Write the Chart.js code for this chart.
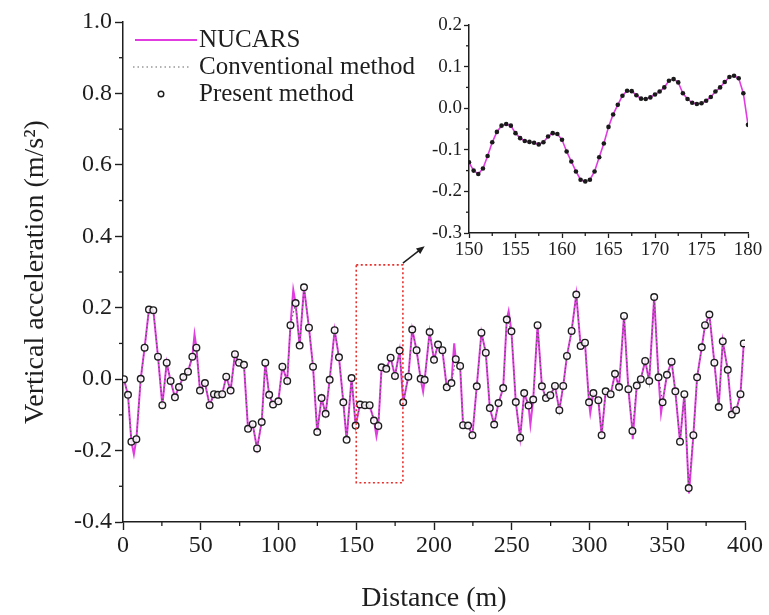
<!DOCTYPE html>
<html>
<head>
<meta charset="utf-8">
<script src="https://cdn.jsdelivr.net/npm/chart.js@4.4.1/dist/chart.umd.min.js"></script>
<style>
  html, body { margin: 0; padding: 0; background: #fff; }
  #wrap { position: relative; width: 769px; height: 615px; }
  #main { position: absolute; left: 0; top: 0; }
  #inset { position: absolute; left: 400px; top: 0; }
</style>
</head>
<body>
<div id="wrap">
  <canvas id="main" width="769" height="615"></canvas>
  <canvas id="inset" width="369" height="265"></canvas>
</div>
<script>
// Valores (distancia en m, aceleracion en m/s2)
const presentDist = [
  0.6, 3.2, 5.4, 8.6, 11.4, 13.9, 16.7, 19.5, 22.5, 25.3, 28.1, 30.6, 33.4, 36.0, 38.8, 41.8,
  44.6, 47.2, 49.5, 52.7, 55.7, 58.5, 61.0, 63.8, 66.4, 69.2, 72.0, 74.6, 77.8, 80.4, 83.4, 86.2,
  89.2, 91.5, 94.0, 96.5, 99.9, 102.5, 105.6, 107.7, 111.0, 113.6, 116.4, 119.6, 122.2, 124.9,
  127.7, 130.3, 132.9, 136.1, 138.9, 141.7, 143.8, 147.0, 149.6, 152.4, 155.6, 158.6, 161.4,
  164.2, 166.3, 169.3, 172.1, 174.9, 177.9, 180.2, 183.5, 186.0, 188.8, 191.4, 194.0, 197.2,
  200.0, 202.6, 205.4, 208.2, 211.2, 214.0, 216.8, 218.7, 221.9, 224.7, 227.5, 230.5, 233.3,
  235.9, 238.7, 241.5, 244.5, 246.8, 249.8, 252.6, 255.4, 258.0, 260.8, 263.8, 266.6, 269.4,
  272.0, 274.8, 277.8, 280.6, 283.1, 285.5, 288.5, 291.5, 294.3, 297.1, 299.7, 302.5, 305.7,
  307.8, 310.4, 313.6, 316.4, 319.0, 322.2, 325.0, 327.6, 330.4, 333.0, 335.8, 338.4, 341.6,
  344.4, 347.0, 349.8, 352.8, 355.2, 358.2, 361.0, 363.8, 366.8, 369.2, 372.2, 374.3, 377.1,
  380.3, 383.1, 385.7, 388.9, 391.5, 394.3, 397.1, 399.2
];
const presentAcc = [
  0.000, -0.044, -0.175, -0.168, 0.001, 0.088, 0.195, 0.193, 0.063, -0.073, 0.046, -0.005, -0.051, -0.022, 0.006, 0.021,
  0.063, 0.088, -0.032, -0.011, -0.073, -0.042, -0.044, -0.042, 0.007, -0.032, 0.070, 0.046, 0.040, -0.139, -0.126, -0.194,
  -0.120, 0.046, -0.044, -0.071, -0.062, 0.035, -0.005, 0.151, 0.213, 0.094, 0.257, 0.144, 0.035, -0.148,
  -0.053, -0.097, -0.002, 0.137, 0.061, -0.065, -0.170, 0.003, -0.130, -0.071, -0.073, -0.073, -0.116,
  -0.131, 0.033, 0.029, 0.060, 0.009, 0.080, -0.065, 0.007, 0.139, 0.081, 0.001, -0.002, 0.132,
  0.054, 0.097, 0.081, -0.023, -0.011, 0.056, 0.037, -0.129, -0.130, -0.157, -0.020, 0.130, 0.074,
  -0.081, -0.127, -0.067, -0.025, 0.167, 0.134, -0.064, -0.164, -0.039, -0.074, -0.057, 0.151, -0.020,
  -0.053, -0.045, -0.019, -0.087, -0.019, 0.065, 0.135, 0.237, 0.093, 0.102, -0.065, -0.039, -0.059,
  -0.157, -0.034, -0.042, 0.015, -0.022, 0.177, -0.028, -0.145, -0.018, 0.000, 0.051, -0.005, 0.230,
  0.005, -0.065, 0.012, 0.049, -0.034, -0.175, -0.042, -0.305, -0.157, 0.005, 0.089, 0.151, 0.181,
  0.046, -0.078, 0.106, 0.026, -0.099, -0.087, -0.042, 0.100
];
// picos de la curva NUCARS que quedan entre circulos
const spikeDist = [7.0, 46.0, 109.5, 163.0, 193.0, 213.0, 248.0, 262.0, 300.5, 327.8, 346.0, 364.0];
const spikeAcc = [-0.210, 0.125, 0.250, -0.160, -0.035, 0.100, 0.190, -0.127, -0.095, -0.168, -0.095, -0.320];

// detalle 150-180 m
const insetDist = [
  150.0, 150.5, 151.0, 151.5, 152.0, 152.5, 153.0, 153.5, 154.0, 154.5, 155.0, 155.5, 156.0, 156.5, 157.0, 157.5,
  158.0, 158.5, 159.0, 159.5, 160.0, 160.5, 161.0, 161.5, 162.0, 162.5, 163.0, 163.5, 164.0, 164.5, 165.0, 165.5,
  166.0, 166.5, 167.0, 167.5, 168.0, 168.5, 169.0, 169.5, 170.0, 170.5, 171.0, 171.5, 172.0, 172.5, 173.0, 173.5,
  174.0, 174.5, 175.0, 175.5, 176.0, 176.5, 177.0, 177.5, 178.0, 178.5, 179.0, 179.5, 180.0
];
const insetAcc = [
  -0.130, -0.150, -0.158, -0.145, -0.115, -0.082, -0.057, -0.042, -0.038, -0.042, -0.060, -0.072, -0.079, -0.081, -0.083, -0.087,
  -0.082, -0.068, -0.060, -0.062, -0.076, -0.104, -0.128, -0.152, -0.172, -0.176, -0.172, -0.152, -0.118, -0.085, -0.045, -0.015,
  0.008, 0.030, 0.042, 0.041, 0.031, 0.023, 0.022, 0.026, 0.033, 0.040, 0.050, 0.066, 0.070, 0.062, 0.036, 0.022,
  0.013, 0.010, 0.012, 0.018, 0.027, 0.040, 0.050, 0.063, 0.075, 0.078, 0.072, 0.036, -0.040
];

const legendLabels = ["NUCARS", "Conventional method", "Present method"];
const zoomBoxX = [150, 180];
const zoomBoxY = [-0.29, 0.32];
const arrowFrom = [180, 0.325];
const arrowTo = [194, 0.372];

const AXIS = "#1e1e1e";
const MAGENTA = "#e03ce0";
const SERIF = "'Liberation Serif', 'Times New Roman', serif";

function pts(xs, ys) {
  return xs.map((x, i) => ({ x, y: ys[i] }));
}

function fmt1(v) {
  return Math.abs(v) < 1e-9 ? "0.0" : v.toFixed(1);
}

// marcas menores entre las principales
const minorTicks = {
  id: "minorTicks",
  afterDraw(chart, args, opts) {
    const ctx = chart.ctx;
    ctx.save();
    ctx.strokeStyle = AXIS;
    ctx.lineWidth = 1.3;
    Object.keys(opts).forEach((id) => {
      const s = chart.scales[id];
      const m = opts[id];
      if (!s || !m || !m.half) return;
      s.ticks.forEach((t) => {
        const v = t.value + m.half;
        if (v > s.max + 1e-9) return;
        const p = s.getPixelForValue(v);
        ctx.beginPath();
        if (s.isHorizontal()) {
          ctx.moveTo(p, s.top);
          ctx.lineTo(p, s.top + m.len);
        } else {
          ctx.moveTo(s.right, p);
          ctx.lineTo(s.right - m.len, p);
        }
        ctx.stroke();
      });
    });
    ctx.restore();
  },
};

// recuadro rojo + flecha hacia el detalle
const zoomBox = {
  id: "zoomBox",
  afterDatasetsDraw(chart) {
    const { ctx, scales: { x, y } } = chart;
    const x0 = x.getPixelForValue(zoomBoxX[0]);
    const x1 = x.getPixelForValue(zoomBoxX[1]);
    const y0 = y.getPixelForValue(zoomBoxY[1]);
    const y1 = y.getPixelForValue(zoomBoxY[0]);
    ctx.save();
    ctx.strokeStyle = "#e8302c";
    ctx.lineWidth = 1.6;
    ctx.setLineDash([2, 2.5]);
    ctx.strokeRect(x0, y0, x1 - x0, y1 - y0);
    ctx.setLineDash([]);
    const ax = x.getPixelForValue(arrowFrom[0]);
    const ay = y.getPixelForValue(arrowFrom[1]);
    const bx = x.getPixelForValue(arrowTo[0]);
    const by = y.getPixelForValue(arrowTo[1]);
    const ang = Math.atan2(by - ay, bx - ax);
    ctx.strokeStyle = AXIS;
    ctx.fillStyle = AXIS;
    ctx.lineWidth = 1.5;
    ctx.beginPath();
    ctx.moveTo(ax, ay);
    ctx.lineTo(bx - 6 * Math.cos(ang), by - 6 * Math.sin(ang));
    ctx.stroke();
    ctx.beginPath();
    ctx.moveTo(bx, by);
    ctx.lineTo(bx - 9 * Math.cos(ang - 0.4), by - 9 * Math.sin(ang - 0.4));
    ctx.lineTo(bx - 9 * Math.cos(ang + 0.4), by - 9 * Math.sin(ang + 0.4));
    ctx.closePath();
    ctx.fill();
    ctx.restore();
  },
};

// leyenda dentro del area, arriba a la izquierda
const cornerLegend = {
  id: "cornerLegend",
  afterDraw(chart) {
    const ctx = chart.ctx;
    const ds = chart.data.datasets;
    const left = chart.chartArea.left;
    const top = chart.chartArea.top;
    const rows = [top + 18, top + 45, top + 72];
    ctx.save();
    ctx.font = "25px " + SERIF;
    ctx.fillStyle = AXIS;
    ctx.textBaseline = "middle";
    legendLabels.forEach((lab, i) => {
      ctx.fillText(lab, left + 76, rows[i]);
    });
    const nuc = ds.find((d) => d.label === legendLabels[0]);
    ctx.strokeStyle = nuc.borderColor;
    ctx.lineWidth = 2;
    ctx.beginPath();
    ctx.moveTo(left + 12, rows[0]);
    ctx.lineTo(left + 74, rows[0]);
    ctx.stroke();
    ctx.strokeStyle = "#999";
    ctx.lineWidth = 1.3;
    ctx.setLineDash([1.5, 3]);
    ctx.beginPath();
    ctx.moveTo(left + 10, rows[1]);
    ctx.lineTo(left + 68, rows[1]);
    ctx.stroke();
    ctx.setLineDash([]);
    ctx.strokeStyle = AXIS;
    ctx.lineWidth = 1.4;
    ctx.beginPath();
    ctx.arc(left + 38, rows[2], 2.8, 0, Math.PI * 2);
    ctx.stroke();
    ctx.restore();
  },
};

const nucarsPts = pts(presentDist, presentAcc)
  .concat(pts(spikeDist, spikeAcc))
  .sort((a, b) => a.x - b.x);

new Chart(document.getElementById("main"), {
  type: "scatter",
  data: {
    datasets: [
      {
        label: legendLabels[2],
        data: pts(presentDist, presentAcc),
        showLine: false,
        pointRadius: 3.3,
        pointBorderWidth: 1.4,
        pointBorderColor: AXIS,
        pointBackgroundColor: "rgba(255,255,255,0.85)",
        order: 1,
      },
      {
        label: legendLabels[1],
        data: pts(presentDist, presentAcc),
        showLine: true,
        borderColor: "#555",
        borderWidth: 1.1,
        borderDash: [1.5, 2.5],
        pointRadius: 0,
        order: 2,
      },
      {
        label: legendLabels[0],
        data: nucarsPts,
        showLine: true,
        borderColor: MAGENTA,
        borderWidth: 2,
        pointRadius: 0,
        order: 3,
      },
    ],
  },
  options: {
    responsive: false,
    animation: false,
    events: [],
    layout: { padding: { left: 0, right: 24, top: 22, bottom: 0 } },
    plugins: {
      legend: { display: false },
      tooltip: { enabled: false },
      minorTicks: { x: { half: 25, len: 4 }, y: { half: 0.1, len: 4 } },
    },
    scales: {
      x: {
        type: "linear",
        min: 0,
        max: 400,
        afterFit: (s) => { s.height = 93; },
        ticks: { stepSize: 50, color: AXIS, padding: 1, font: { family: SERIF, size: 24 } },
        grid: { drawOnChartArea: false, tickLength: 8, tickWidth: 1.4, tickColor: AXIS },
        border: { color: AXIS, width: 1.5 },
        title: {
          display: true,
          text: "Distance (m)",
          color: AXIS,
          font: { family: SERIF, size: 28 },
          padding: { top: 4, bottom: 0 },
        },
      },
      y: {
        min: -0.4,
        max: 1.0,
        afterFit: (s) => { s.width = 123; },
        ticks: { stepSize: 0.2, color: AXIS, padding: 3, callback: (v) => fmt1(v), font: { family: SERIF, size: 24 } },
        grid: { drawOnChartArea: false, tickLength: 8, tickWidth: 1.4, tickColor: AXIS },
        border: { color: AXIS, width: 1.5 },
        title: {
          display: true,
          text: "Vertical acceleration (m/s\u00B2)",
          color: AXIS,
          font: { family: SERIF, size: 28 },
          padding: { top: 19, bottom: 0 },
        },
      },
    },
  },
  plugins: [minorTicks, zoomBox, cornerLegend],
});

new Chart(document.getElementById("inset"), {
  type: "scatter",
  data: {
    datasets: [
      {
        label: "Present method",
        data: pts(insetDist, insetAcc),
        showLine: false,
        pointRadius: 2.3,
        pointBorderWidth: 0,
        pointBackgroundColor: "#1a1a1a",
        order: 1,
      },
      {
        label: "NUCARS",
        data: pts(insetDist, insetAcc),
        showLine: true,
        borderColor: MAGENTA,
        borderWidth: 1.6,
        pointRadius: 0,
        order: 2,
      },
    ],
  },
  options: {
    responsive: false,
    animation: false,
    events: [],
    layout: { padding: { left: 0, right: 21, top: 25, bottom: 0 } },
    plugins: {
      legend: { display: false },
      tooltip: { enabled: false },
      minorTicks: { x: { half: 2.5, len: 3 }, y: { half: 0.05, len: 3 } },
    },
    scales: {
      x: {
        type: "linear",
        min: 150,
        max: 180,
        afterFit: (s) => { s.height = 32; },
        ticks: { stepSize: 5, color: AXIS, padding: 1, font: { family: SERIF, size: 19 } },
        grid: { drawOnChartArea: false, tickLength: 5, tickWidth: 1.3, tickColor: AXIS },
        border: { color: AXIS, width: 1.5 },
      },
      y: {
        min: -0.3,
        max: 0.2,
        afterFit: (s) => { s.width = 69; },
        ticks: { stepSize: 0.1, color: AXIS, padding: 2, callback: (v) => fmt1(v), font: { family: SERIF, size: 19 } },
        grid: { drawOnChartArea: false, tickLength: 5, tickWidth: 1.3, tickColor: AXIS },
        border: { color: AXIS, width: 1.5 },
      },
    },
  },
  plugins: [minorTicks],
});
</script>
</body>
</html>
